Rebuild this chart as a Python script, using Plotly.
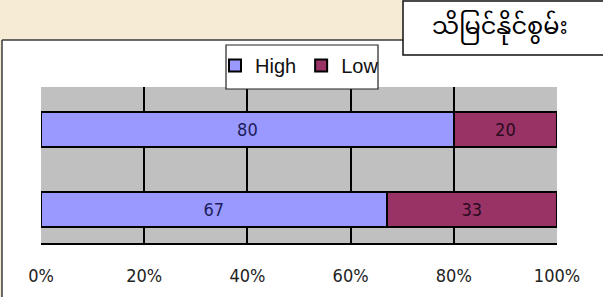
import plotly.graph_objects as go

# ---- data ----
categories = ["B", "A"]          # bottom bar first (plotly puts first category at bottom)
high_values = [67, 80]
low_values = [33, 20]
tick_vals = [0, 20, 40, 60, 80, 100]
tick_text = ["0%", "20%", "40%", "60%", "80%", "100%"]
title_text = "သိမြင်နိုင်စွမ်း"

W, H = 603, 297
PL, PR, PT, PB = 41, 557, 87, 243  # plot area in pixels


def px(x):
    return (x - PL) / (PR - PL)


def py(y):
    return (PB - y) / (PB - PT)


NUM_FONT = "DejaVu Sans Condensed, Liberation Sans Narrow, Arial Narrow, sans-serif"

fig = go.Figure()
fig.add_trace(go.Bar(
    y=categories, x=high_values, name="High", orientation="h",
    marker=dict(color="#9999ff", line=dict(color="#000000", width=2)),
    text=[str(v) for v in high_values], textposition="inside",
    insidetextanchor="middle",
    textfont=dict(family=NUM_FONT, size=18, color="#1c1c5c"),
))
fig.add_trace(go.Bar(
    y=categories, x=low_values, name="Low", orientation="h",
    marker=dict(color="#993366", line=dict(color="#000000", width=2)),
    text=[str(v) for v in low_values], textposition="inside",
    insidetextanchor="middle",
    textfont=dict(family=NUM_FONT, size=18, color="#2a0a1e"),
))

shapes = [
    # beige background strips outside the white chart box
    dict(type="rect", xref="paper", yref="paper", x0=px(-5), x1=px(610),
         y0=py(40), y1=py(-5), fillcolor="#f6ecd6", line=dict(width=0), layer="below"),
    dict(type="rect", xref="paper", yref="paper", x0=px(-5), x1=px(2),
         y0=py(300), y1=py(40), fillcolor="#f6ecd6", line=dict(width=0), layer="below"),
    # white chart box border
    dict(type="line", xref="paper", yref="paper", x0=px(2), x1=px(610),
         y0=py(40), y1=py(40), line=dict(color="#3a3a3a", width=1.5)),
    dict(type="line", xref="paper", yref="paper", x0=px(2), x1=px(2),
         y0=py(40), y1=py(300), line=dict(color="#3a3a3a", width=1.5)),
    # title box
    dict(type="rect", xref="paper", yref="paper", x0=px(403), x1=px(604),
         y0=py(55), y1=py(1), fillcolor="#ffffff",
         line=dict(color="#111111", width=1.5)),
    # legend frame
    dict(type="rect", xref="paper", yref="paper", x0=px(226), x1=px(378),
         y0=py(89), y1=py(45), fillcolor="#ffffff",
         line=dict(color="#222222", width=1.2)),
]

fig.update_layout(
    width=W, height=H,
    margin=dict(l=PL, r=W - PR, t=PT, b=H - PB, pad=0, autoexpand=False),
    paper_bgcolor="#ffffff",
    plot_bgcolor="#c0c0c0",
    barmode="stack",
    bargap=0.57,
    showlegend=True,
    legend=dict(
        orientation="h", traceorder="normal",
        x=px(215), xanchor="left", y=py(46), yanchor="top",
        bgcolor="rgba(0,0,0,0)", borderwidth=0,
        font=dict(family="Liberation Sans, Arial, sans-serif",
                  size=20, color="#111111"),
        itemwidth=30, tracegroupgap=0,
    ),
    xaxis=dict(
        range=[0, 100], tickvals=tick_vals, ticktext=tick_text,
        showgrid=True, gridcolor="#000000", gridwidth=1.5,
        zeroline=False, showline=True, linecolor="#000000", linewidth=2,
        ticks="", ticklabelstandoff=15,
        tickfont=dict(family=NUM_FONT, size=18, color="#222222"),
        fixedrange=True,
    ),
    yaxis=dict(
        range=[-0.42, 1.53],
        showticklabels=False, showgrid=False, zeroline=False, showline=False,
        ticks="", fixedrange=True,
    ),
    shapes=shapes,
    annotations=[
        dict(xref="paper", yref="paper", x=px(500), y=py(28),
             text=title_text, showarrow=False, xanchor="center", yanchor="middle",
             font=dict(family="Noto Sans Myanmar, Padauk, Myanmar Text, sans-serif",
                       size=24, color="#000000")),
    ],
)

fig.write_html(
    "out.html",
    config={"displayModeBar": False},
    post_script="document.body.style.margin='0';document.body.style.overflow='hidden';",
)
